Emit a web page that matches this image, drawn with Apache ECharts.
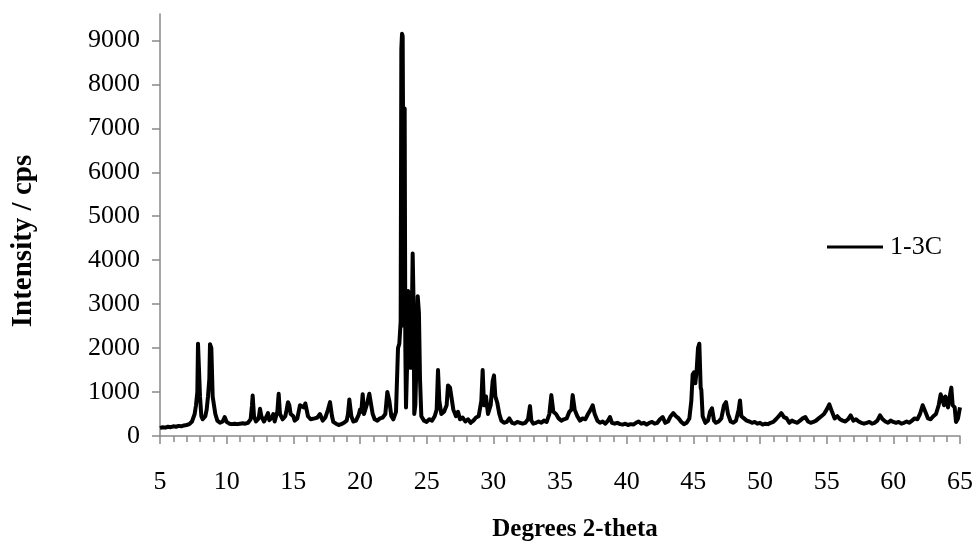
<!DOCTYPE html>
<html>
<head>
<meta charset="utf-8">
<script src="https://cdn.jsdelivr.net/npm/echarts@6/dist/echarts.min.js"></script>
<style>html,body{margin:0;padding:0;background:#fff}#c{width:976px;height:550px}</style>
</head>
<body>
<div id="c"></div>
<script>
const seriesName = '1-3C';
const xTitle = 'Degrees 2-theta';
const yTitle = 'Intensity / cps';
const yTickValues = [0,1000,2000,3000,4000,5000,6000,7000,8000,9000];

const twoTheta = [
5.0,5.2,5.4,5.6,5.8,6.0,6.2,6.4,6.6,6.8,7.0,7.2,7.4,7.6,7.7,7.8,7.85,7.95,8.0,8.1,8.2,8.4,8.5,8.6,8.7,8.75,8.85,8.95,9.05,9.15,9.3,9.5,9.7,9.85,
10.0,10.2,10.4,10.6,10.8,11.0,11.2,11.4,11.6,11.8,11.9,11.95,12.05,12.2,12.4,12.5,12.6,12.8,13.0,13.1,13.2,13.4,13.5,13.6,13.8,13.9,14.0,14.2,14.4,14.5,14.6,14.7,14.8,
15.0,15.1,15.3,15.5,15.6,15.8,15.9,16.0,16.1,16.3,16.4,16.6,16.8,17.0,17.1,17.2,17.4,17.6,17.75,17.9,18.0,18.2,18.4,18.6,18.8,19.0,19.1,19.2,19.35,19.5,19.7,19.9,
20.0,20.1,20.2,20.3,20.5,20.7,20.8,20.95,21.1,21.3,21.5,21.7,21.9,22.05,22.2,22.35,22.5,22.7,22.85,22.95,23.05,23.1,23.15,23.2,23.3,23.35,23.4,23.45,23.55,23.6,23.7,23.75,23.8,23.88,23.95,24.02,24.07,24.15,24.25,24.33,24.42,24.5,24.6,24.8,
25.0,25.2,25.4,25.6,25.75,25.85,25.95,26.1,26.3,26.5,26.6,26.75,26.9,27.0,27.2,27.35,27.5,27.7,27.9,28.1,28.3,28.5,28.7,28.9,29.1,29.2,29.3,29.45,29.6,29.8,29.95,
30.05,30.15,30.3,30.45,30.6,30.8,31.0,31.2,31.4,31.6,31.8,32.0,32.2,32.4,32.6,32.75,32.85,33.0,33.2,33.4,33.6,33.8,34.0,34.2,34.35,34.5,34.7,34.9,
35.1,35.3,35.5,35.7,35.85,35.95,36.1,36.3,36.5,36.7,36.9,37.1,37.3,37.45,37.6,37.8,38.0,38.2,38.4,38.6,38.75,38.9,39.1,39.3,39.5,39.7,39.9,
40.1,40.3,40.5,40.7,40.9,41.1,41.3,41.5,41.7,41.9,42.1,42.3,42.5,42.7,42.9,43.1,43.3,43.5,43.7,43.9,44.1,44.3,44.5,44.7,44.85,44.95,
45.05,45.15,45.25,45.35,45.45,45.55,45.6,45.7,45.9,46.1,46.25,46.4,46.55,46.7,46.9,47.1,47.3,47.45,47.6,47.8,48.0,48.2,48.4,48.5,48.6,48.8,49.0,49.2,49.4,49.6,49.8,
50.0,50.2,50.4,50.6,50.8,51.0,51.2,51.4,51.6,51.8,52.0,52.2,52.4,52.6,52.8,53.0,53.2,53.4,53.6,53.8,54.0,54.2,54.4,54.6,54.8,
55.0,55.2,55.4,55.6,55.8,56.0,56.2,56.4,56.6,56.8,57.0,57.2,57.4,57.6,57.8,58.0,58.2,58.4,58.6,58.8,59.0,59.2,59.4,59.6,59.8,
60.0,60.2,60.4,60.6,60.8,61.0,61.2,61.4,61.6,61.8,62.0,62.2,62.4,62.6,62.8,63.0,63.2,63.4,63.55,63.65,63.8,63.9,64.0,64.1,64.2,64.35,64.45,64.6,64.7,64.85,65.0
];

const intensity = [
180,200,190,210,200,220,210,230,220,240,250,270,330,500,700,1000,2100,2120,900,450,380,450,600,900,1300,2090,2000,900,880,500,350,300,330,430,
320,280,270,280,270,280,290,280,300,380,700,920,450,330,400,620,450,330,450,520,360,420,500,330,550,960,500,380,450,600,770,700,500,
450,350,400,700,740,650,740,700,450,380,350,400,420,500,520,350,420,600,770,450,320,280,250,270,300,350,500,830,450,330,350,480,
600,550,950,500,700,960,950,500,380,350,400,420,500,1000,800,450,380,550,2000,2100,2600,8800,9150,9100,2500,7450,2000,650,1800,3300,3200,2000,1550,2500,4150,3000,500,700,1800,3180,2800,1300,450,350,
320,380,350,450,600,1500,800,500,550,700,1150,1100,1100,600,450,550,380,420,330,380,300,350,420,450,800,1500,700,900,500,700,1250,
1380,900,750,500,350,300,320,400,300,280,320,300,280,300,380,680,350,280,300,330,300,350,320,500,930,550,500,400,
350,380,400,550,600,930,600,450,350,400,380,500,600,700,500,350,300,330,280,350,430,300,280,300,270,260,280,
250,270,260,300,330,280,300,260,300,320,280,300,380,430,300,330,450,520,450,400,320,270,300,400,800,1400,
1450,1200,1500,2000,2100,1100,1050,450,300,350,550,630,350,300,330,400,700,770,500,330,300,350,600,810,450,400,350,330,300,320,280,
300,260,280,270,300,320,380,450,520,430,400,300,350,320,300,350,400,430,330,300,320,350,400,450,500,
600,720,550,400,450,380,350,330,380,470,350,380,330,300,280,300,320,280,300,350,470,380,330,300,350,
320,300,320,280,300,330,300,350,400,380,500,700,550,400,380,450,500,700,950,850,700,900,800,650,850,1100,700,650,320,400,650
];

const points = twoTheta.map((x, i) => [x, intensity[i]]);

const font = '"Liberation Serif", "Times New Roman", serif';
const axisGray = '#898989';

const chart = echarts.init(document.getElementById('c'), null, {renderer: 'canvas'});
chart.setOption({
  animation: false,
  backgroundColor: '#ffffff',
  grid: {left: 160, right: 16, top: 14, bottom: 114, containLabel: false},
  legend: {
    data: [seriesName],
    left: 822, top: 229,
    icon: 'rect', itemWidth: 56, itemHeight: 3, itemGap: 6,
    textStyle: {fontFamily: font, fontSize: 26, color: '#000', padding: [0,0,0,2]}
  },
  xAxis: {
    type: 'value', min: 5, max: 65, interval: 5,
    name: xTitle, nameLocation: 'middle', nameGap: 81,
    nameTextStyle: {fontFamily: font, fontSize: 25, fontWeight: 'bold', color: '#000', padding: [0,0,0,30]},
    axisLine: {show: true, lineStyle: {color: axisGray, width: 1.5}},
    axisTick: {show: true, inside: false, length: 8, lineStyle: {color: axisGray, width: 1.5}},
    minorTick: {show: true, splitNumber: 5, length: 6, lineStyle: {color: axisGray, width: 1.5}},
    axisLabel: {fontFamily: font, fontSize: 26, color: '#000', margin: 33, formatter: v => String(v)},
    splitLine: {show: false}
  },
  yAxis: {
    type: 'value', min: 0, max: 9600,
    name: yTitle, nameLocation: 'middle', nameGap: 122, nameRotate: 90,
    nameTextStyle: {fontFamily: font, fontSize: 29, fontWeight: 'bold', color: '#000', padding: [0,32,0,0]},
    axisLine: {show: true, lineStyle: {color: axisGray, width: 1.5}},
    axisTick: {show: true, inside: false, length: 8, customValues: yTickValues, lineStyle: {color: axisGray, width: 1.5}},
    axisLabel: {fontFamily: font, fontSize: 26, color: '#000', margin: 20, customValues: yTickValues, formatter: v => String(v)},
    splitLine: {show: false}
  },
  series: [{
    name: seriesName,
    type: 'line',
    data: points,
    showSymbol: false,
    symbol: 'none',
    lineStyle: {color: '#000', width: 4, join: 'round'},
    itemStyle: {color: '#000'}
  }]
});
</script>
</body>
</html>
